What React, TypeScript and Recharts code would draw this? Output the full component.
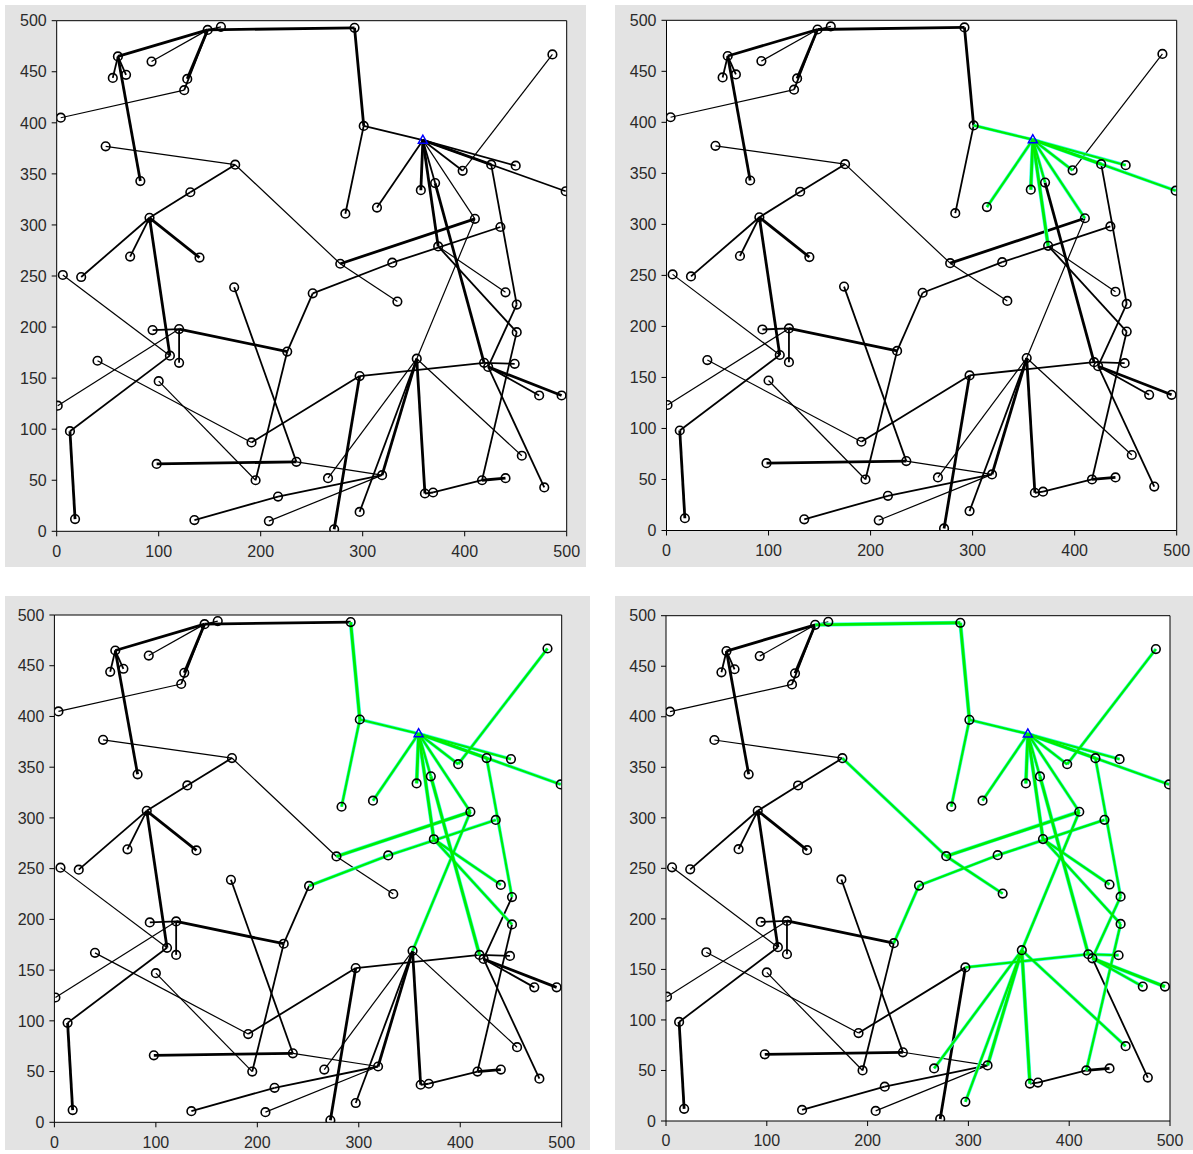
import React from 'react';
import { ScatterChart, Scatter, XAxis, YAxis, ReferenceLine, CartesianGrid } from 'recharts';

// node positions [x, y]; node 0 is the source (blue triangle)
const nodes: [number, number][] = [
  [359, 383], [292, 493], [301, 397], [283, 311], [314, 317], [357, 334], [371, 341], [398, 353],
  [426, 359], [450, 358], [499, 333], [486, 467], [410, 306], [435, 298], [374, 279], [329, 263],
  [278, 262], [334, 225], [251, 233], [440, 234], [451, 222], [451, 195], [353, 169], [419, 165],
  [423, 161], [449, 164], [473, 133], [495, 133], [297, 152], [226, 176], [456, 74], [478, 43],
  [417, 50], [440, 52], [361, 37], [369, 38], [319, 55], [266, 52], [235, 68], [297, 19],
  [272, 2], [60, 465], [55, 444], [68, 447], [93, 460], [125, 432], [128, 443], [148, 491],
  [161, 494], [4, 405], [82, 343], [48, 377], [175, 359], [131, 332], [91, 307], [72, 269],
  [140, 268], [6, 251], [24, 249], [174, 239], [94, 197], [120, 198], [111, 172], [120, 165],
  [40, 167], [100, 147], [1, 123], [13, 98], [18, 12], [191, 87], [195, 50], [98, 66],
  [135, 11], [217, 34], [208, 10],
];

// links [from, to, load level 1..3]
const edges: [number, number, number][] = [
  [41, 47, 3], [44, 47, 1], [47, 46, 3], [47, 45, 2], [45, 49, 1], [41, 42, 2], [41, 43, 2],
  [41, 50, 3], [47, 48, 1], [47, 1, 3], [51, 52, 1], [52, 53, 2], [53, 54, 2], [54, 58, 2],
  [54, 55, 2], [54, 56, 3], [54, 62, 3], [52, 16, 1], [16, 17, 1], [57, 62, 1], [60, 61, 2],
  [61, 29, 3], [61, 63, 2], [61, 66, 1], [62, 67, 2], [67, 68, 3], [64, 69, 1], [69, 28, 2],
  [65, 70, 1], [70, 29, 2], [29, 18, 2], [59, 38, 2], [71, 38, 3], [38, 36, 1], [72, 73, 2],
  [73, 36, 2], [74, 36, 1],
  [1, 2, 3], [2, 0, 2], [2, 3, 2], [0, 4, 2], [0, 5, 3], [0, 6, 2], [0, 14, 3], [0, 12, 1],
  [0, 7, 2], [0, 8, 3], [0, 9, 2], [0, 10, 2], [11, 7, 1], [6, 23, 3], [8, 20, 2], [16, 12, 3],
  [18, 15, 2], [15, 13, 2], [14, 19, 1], [14, 21, 2], [12, 22, 1], [20, 24, 2], [21, 32, 2],
  [23, 25, 2], [24, 26, 2], [24, 27, 3], [24, 31, 2], [28, 23, 2], [22, 34, 3], [22, 36, 3],
  [22, 37, 1], [22, 39, 2], [22, 30, 1], [40, 28, 3], [34, 35, 2], [35, 32, 2], [32, 33, 3],
];

// links highlighted green at each step
const step1: [number, number][] = [[2, 0], [0, 4], [0, 5], [0, 6], [0, 14], [0, 12], [0, 7], [0, 8], [0, 9], [0, 10]];
const step2: [number, number][] = [...step1, [1, 2], [2, 3], [11, 7], [6, 23], [8, 20], [16, 12], [18, 15], [15, 13], [14, 19], [14, 21], [12, 22]];
const step3: [number, number][] = [...step2, [47, 1], [52, 16], [16, 17], [29, 18], [28, 23], [23, 25], [24, 26], [24, 27], [20, 24], [21, 32], [22, 34], [22, 36], [22, 37], [22, 39], [22, 30]];

const xTicks = [0, 100, 200, 300, 400, 500];
const yTicks = [0, 50, 100, 150, 200, 250, 300, 350, 400, 450, 500];

const layout = [
  { box: { x: 5, y: 5, w: 581, h: 562 }, plot: { l: 56.7, r: 566.7, t: 20.7, b: 531.3 }, green: [] as [number, number][] },
  { box: { x: 615, y: 5, w: 578, h: 562 }, plot: { l: 666.5, r: 1176.7, t: 20.3, b: 530.5 }, green: step1 },
  { box: { x: 5, y: 596, w: 585, h: 554 }, plot: { l: 54.4, r: 561.7, t: 615, b: 1122.3 }, green: step2 },
  { box: { x: 615, y: 596, w: 578, h: 554 }, plot: { l: 666, r: 1170, t: 615.7, b: 1121 }, green: step3 },
];

const widthOf = (lvl: number) => (lvl === 1 ? 1.2 : lvl === 2 ? 1.8 : 2.8);
const key = (a: number, b: number) => (a < b ? `${a}-${b}` : `${b}-${a}`);

const nodeData = nodes.map(([x, y], i) => ({ x, y, i })).filter((d) => d.i !== 0);
const sourceData = [{ x: nodes[0][0], y: nodes[0][1] }];

const Ring = (p: any) => <circle cx={p.cx} cy={p.cy} r={4.3} fill="none" stroke="#000" strokeWidth={1.6} />;
const Tri = (p: any) => (
  <polygon
    points={`${p.cx},${p.cy - 5} ${p.cx - 4.5},${p.cy + 3} ${p.cx + 4.5},${p.cy + 3}`}
    fill="none"
    stroke="#0000ff"
    strokeWidth={1.5}
  />
);

const tickStyle = { fill: '#2a2a2a', fontSize: 16, fontFamily: 'Liberation Sans, Arial, sans-serif' };

function Panel({ box, plot, green }: { box: any; plot: any; green: [number, number][] }) {
  const g = new Set(green.map(([a, b]) => key(a, b)));
  const seg = (a: number, b: number) => [
    { x: nodes[a][0], y: nodes[a][1] },
    { x: nodes[b][0], y: nodes[b][1] },
  ];
  const black = edges.filter(([a, b]) => !g.has(key(a, b)));
  const lit = edges.filter(([a, b]) => g.has(key(a, b)));
  return (
    <div style={{ position: 'absolute', left: box.x, top: box.y, width: box.w, height: box.h, background: '#e3e3e3' }}>
      <ScatterChart width={box.w} height={box.h} margin={{ top: 0, right: 0, bottom: 0, left: 0 }}>
        <CartesianGrid fill="#fff" fillOpacity={1} horizontal={false} vertical={false} />
        <XAxis type="number" dataKey="x" domain={[0, 500]} ticks={xTicks} height={box.y + box.h - plot.b}
          tickSize={5} tickMargin={9} stroke="#000" tick={tickStyle} allowDataOverflow />
        <XAxis xAxisId="top" orientation="top" type="number" dataKey="x" domain={[0, 500]} ticks={xTicks}
          height={plot.t - box.y} tickSize={5} stroke="#000" tick={false} />
        <YAxis type="number" dataKey="y" domain={[0, 500]} ticks={yTicks} width={plot.l - box.x}
          tickSize={5} tickMargin={5} stroke="#000" tick={tickStyle} allowDataOverflow />
        <YAxis yAxisId="right" orientation="right" type="number" dataKey="y" domain={[0, 500]} ticks={yTicks}
          width={box.x + box.w - plot.r} tickSize={5} stroke="#000" tick={false} />
        {black.map(([a, b, l]) => (
          <ReferenceLine key={`k${a}-${b}`} segment={seg(a, b)} stroke="#000" strokeWidth={widthOf(l)} ifOverflow="visible" />
        ))}
        {lit.map(([a, b, l]) => (
          <ReferenceLine key={`c${a}-${b}`} segment={seg(a, b)} stroke="#33ffee" strokeWidth={Math.max(2.2, widthOf(l)) + 1.2} ifOverflow="visible" />
        ))}
        {lit.map(([a, b, l]) => (
          <ReferenceLine key={`g${a}-${b}`} segment={seg(a, b)} stroke="#00ee00" strokeWidth={Math.max(2.2, widthOf(l))} ifOverflow="visible" />
        ))}
        <Scatter data={nodeData} shape={Ring} isAnimationActive={false} />
        <Scatter data={sourceData} shape={Tri} isAnimationActive={false} />
      </ScatterChart>
    </div>
  );
}

export default function App() {
  return (
    <div style={{ position: 'absolute', left: 0, top: 0, width: 1193, height: 1154, background: '#fff' }}>
      {layout.map((p, i) => (
        <Panel key={i} box={p.box} plot={p.plot} green={p.green} />
      ))}
    </div>
  );
}
